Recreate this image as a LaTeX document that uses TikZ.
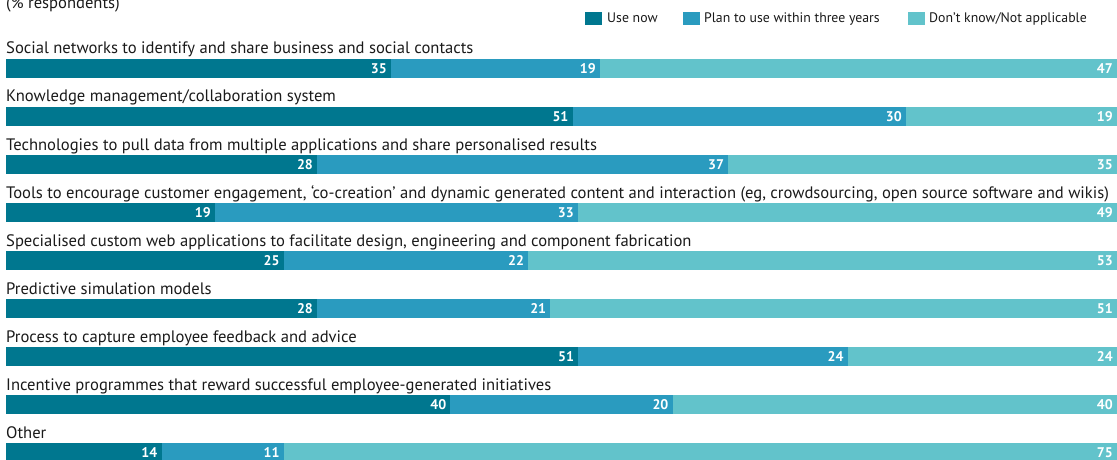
\documentclass[tikz,border=0pt]{standalone}
\usepackage{fontspec}
\setmainfont{PT Sans}
\definecolor{cA}{HTML}{00778F}
\definecolor{cB}{HTML}{2A9BBF}
\definecolor{cC}{HTML}{62C3CB}
\definecolor{txt}{HTML}{1A1A1A}
\tikzset{
  seg/.style={inner sep=0pt, outer sep=0pt, minimum height=19pt, draw=none, anchor=north west},
  num/.style={text=white, font=\bfseries\fontsize{14}{14}\selectfont, inner sep=0pt, anchor=east},
  rowlabel/.style={font=\fontsize{16.6}{16.6}\selectfont, inner sep=0pt, anchor=base west, text=txt},
  legbox/.style={inner sep=0pt, outer sep=0pt, minimum width=17pt, minimum height=13pt, anchor=north west},
  legtext/.style={font=\fontsize{13.8}{13.8}\selectfont, inner sep=0pt, anchor=base west, text=txt},
}
\newcommand\chartrow[5]{%
  \pgfmathsetmacro\rtop{59+48*(#1-1)}%
  \pgfmathsetmacro\tot{#2+#3+#4}%
  \pgfmathsetmacro\wa{#2/\tot*1111}%
  \pgfmathsetmacro\wb{#3/\tot*1111}%
  \pgfmathsetmacro\wc{1111-\wa-\wb}%
  \node[rowlabel] (lab#1) at (6,\rtop-5) {#5};
  \node[seg, fill=cA, minimum width=\wa pt] (s#1a) at (6,\rtop) {};
  \node[seg, fill=cB, minimum width=\wb pt] (s#1b) at (s#1a.north east) {};
  \node[seg, fill=cC, minimum width=\wc pt] (s#1c) at (s#1b.north east) {};
  \node[num] (n#1a) at ([xshift=-4pt]s#1a.east) {#2};
  \node[num] (n#1b) at ([xshift=-4pt]s#1b.east) {#3};
  \node[num] (n#1c) at ([xshift=-4pt]s#1c.east) {#4};
}
\begin{document}
\begin{tikzpicture}[x=1pt,y=-1pt]
\useasboundingbox (0,0) rectangle (1117,460);
\node[rowlabel] (title) at (6,9) {(\% respondents)};
\node[legbox, fill=cA] (k1) at (585,12) {};
\node[legtext] (t1) at (607,23) {Use now};
\node[legbox, fill=cB] (k2) at (683,12) {};
\node[legtext] (t2) at (704,23) {Plan to use within three years};
\node[legbox, fill=cC] (k3) at (908,12) {};
\node[legtext] (t3) at (929,23) {Don’t know/Not applicable};
\chartrow{1}{35}{19}{47}{Social networks to identify and share business and social contacts}
\chartrow{2}{51}{30}{19}{Knowledge management/collaboration system}
\chartrow{3}{28}{37}{35}{Technologies to pull data from multiple applications and share personalised results}
\chartrow{4}{19}{33}{49}{Tools to encourage customer engagement, ‘co-creation’ and dynamic generated content and interaction (eg, crowdsourcing, open source software and wikis)}
\chartrow{5}{25}{22}{53}{Specialised custom web applications to facilitate design, engineering and component fabrication}
\chartrow{6}{28}{21}{51}{Predictive simulation models}
\chartrow{7}{51}{24}{24}{Process to capture employee feedback and advice}
\chartrow{8}{40}{20}{40}{Incentive programmes that reward successful employee-generated initiatives}
\chartrow{9}{14}{11}{75}{Other}
\end{tikzpicture}
\end{document}
